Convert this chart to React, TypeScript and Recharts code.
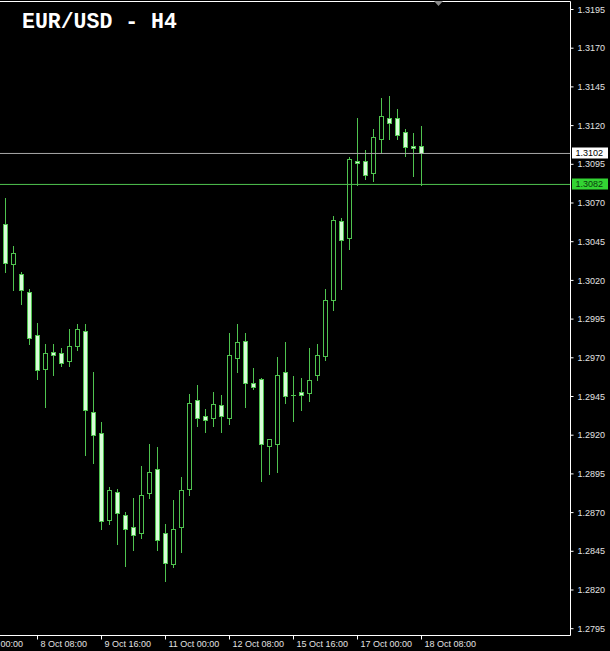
import React from "react";
import { ComposedChart, Bar, XAxis, YAxis, ReferenceLine } from "recharts";

// ---- data (EUR/USD H4) ----
const barIndex = [
  0, 1, 2, 3, 4, 5, 6, 7, 8, 9, 10, 11, 12, 13, 14, 15, 16, 17, 18, 19, 20, 21, 22, 23, 24, 25,
  26, 27, 28, 29, 30, 31, 32, 33, 34, 35, 36, 37, 38, 39, 40, 41, 42, 43, 44, 45, 46, 47, 48, 49,
  50, 51, 52,
];
const opens = [
  1.30564, 1.30301, 1.30235, 1.30119, 1.29841, 1.29623, 1.29737, 1.29731, 1.29675, 1.29772,
  1.29867, 1.29348, 1.29212, 1.28648, 1.28831, 1.28683, 1.28605, 1.28566, 1.28822, 1.2898,
  1.28566, 1.28363, 1.28602, 1.2885, 1.29421, 1.29324, 1.29307, 1.29389, 1.29309, 1.29694,
  1.29808, 1.29531, 1.29557, 1.29126, 1.29139, 1.29602, 1.29458, 1.29473, 1.29468, 1.29584,
  1.29707, 1.30069, 1.30582, 1.30471, 1.30971, 1.30969, 1.30889, 1.31109, 1.31247, 1.31243,
  1.31157, 1.31068, 1.31066,
];
const highs = [
  1.30726, 1.30422, 1.30252, 1.30138, 1.29923, 1.29789, 1.29789, 1.29757, 1.2988, 1.29918,
  1.29918, 1.29608, 1.29281, 1.28863, 1.2885, 1.28699, 1.28794, 1.29001, 1.29143, 1.29122,
  1.28624, 1.28781, 1.28928, 1.2946, 1.29518, 1.29363, 1.29473, 1.29458, 1.2986, 1.29918,
  1.2986, 1.29628, 1.29569, 1.29169, 1.29699, 1.29796, 1.29582, 1.29569, 1.29757, 1.29789,
  1.30144, 1.30616, 1.30601, 1.30991, 1.31246, 1.31042, 1.31178, 1.31372, 1.31391, 1.31301,
  1.31178, 1.3115, 1.31197,
];
const lows = [
  1.3025, 1.30133, 1.30043, 1.29785, 1.29563, 1.29378, 1.29584, 1.29642, 1.29642, 1.29746,
  1.29068, 1.29014, 1.28588, 1.28622, 1.28497, 1.2835, 1.28454, 1.28531, 1.28788, 1.28458,
  1.28254, 1.28344, 1.28441, 1.2881, 1.29255, 1.29216, 1.29255, 1.29216, 1.29272, 1.29604,
  1.29378, 1.29494, 1.289, 1.28949, 1.28956, 1.29403, 1.29287, 1.29358, 1.29416, 1.29552,
  1.29681, 1.30004, 1.30143, 1.304, 1.30816, 1.3085, 1.30838, 1.31021, 1.31113, 1.31107,
  1.30999, 1.30868, 1.30816,
];
const closes = [
  1.3031, 1.30377, 1.30133, 1.29823, 1.29617, 1.29731, 1.29714, 1.29662, 1.2977, 1.2988,
  1.2936, 1.29197, 1.28641, 1.28844, 1.28693, 1.2859, 1.28551, 1.28812, 1.28962, 1.28521,
  1.2837, 1.28592, 1.28844, 1.29406, 1.29309, 1.29294, 1.294, 1.29319, 1.29712, 1.29796,
  1.29533, 1.29507, 1.29139, 1.29169, 1.29587, 1.29449, 1.29458, 1.29455, 1.29555, 1.29716,
  1.30067, 1.30588, 1.30459, 1.30982, 1.30955, 1.30876, 1.3112, 1.3126, 1.31215, 1.31135,
  1.3106, 1.31055, 1.3102,
];

const timeTickBars = [-4, 4, 12, 20, 28, 36, 44, 52];
const timeTickLabels = [
  "7 Oct 00:00",
  "8 Oct 08:00",
  "9 Oct 16:00",
  "11 Oct 00:00",
  "12 Oct 08:00",
  "15 Oct 16:00",
  "17 Oct 00:00",
  "18 Oct 08:00",
];
const priceTicks = [
  1.3195, 1.317, 1.3145, 1.312, 1.3095, 1.307, 1.3045, 1.302, 1.2995, 1.297, 1.2945, 1.292,
  1.2895, 1.287, 1.2845, 1.282, 1.2795,
];
const bidPrice = 1.3102;
const levelPrice = 1.3082;
const chartTitle = "EUR/USD - H4";

// ---- view ----
const X_MIN = -0.6875;
const X_MAX = 70.625;
const Y_MIN = 1.2790607;
const Y_MAX = 1.3200168;

const STROKE = "#4fc34f";
const BEAR_FILL = "#d8fcd8";
const TEXT = "#e2e2e2";
const FONT = "'Liberation Sans', Arial, sans-serif";

const data = barIndex.map((i, k) => ({
  i,
  open: opens[k],
  high: highs[k],
  low: lows[k],
  close: closes[k],
}));

const renderCandle = (props: any) => {
  const { x, y, width, height, payload } = props;
  if (x == null || y == null || !payload || isNaN(x) || isNaN(y)) return <g />;
  const cx = Math.floor(x + width / 2) + 0.5;
  const { open, close, high, low } = payload;
  const range = high - low;
  const ppu = range > 0 ? height / range : 0;
  const yOf = (v: number) => y + (high - v) * ppu;
  const top = Math.max(open, close);
  const bot = Math.min(open, close);
  const yTop = Math.floor(yOf(top)) + 0.5;
  const yBot = Math.floor(yOf(bot)) + 0.5;
  const bear = close < open;
  const bodyH = yBot - yTop;
  return (
    <g>
      <line
        x1={cx}
        x2={cx}
        y1={Math.floor(y)}
        y2={Math.ceil(y + height)}
        stroke={STROKE}
        strokeWidth={1}
      />
      {bodyH < 1 ? (
        <line x1={cx - 2.5} x2={cx + 2.5} y1={yTop} y2={yTop} stroke={STROKE} strokeWidth={1} />
      ) : (
        <rect
          x={cx - 2}
          y={yTop}
          width={4}
          height={bodyH}
          fill={bear ? BEAR_FILL : "#000"}
          stroke={STROKE}
          strokeWidth={1}
        />
      )}
    </g>
  );
};

const TimeTick = (props: any) => {
  const { x, y, payload } = props;
  const idx = timeTickBars.indexOf(payload.value);
  if (idx < 0) return <g />;
  return (
    <text x={x + 3} y={y + 5} fill={TEXT} fontSize={9} fontFamily={FONT} textAnchor="start">
      {timeTickLabels[idx]}
    </text>
  );
};

const makeTag = (bg: string, fg: string, txt: string) => (props: any) => {
  const vb = props.viewBox || {};
  const xr = (vb.x || 0) + (vb.width || 0);
  const yy = vb.y || 0;
  return (
    <g>
      <rect x={xr + 1.5} y={Math.floor(yy) - 5.5} width={36} height={11} fill={bg} />
      <text
        x={xr + 5}
        y={Math.floor(yy)}
        dy="0.36em"
        fill={fg}
        fontSize={9}
        fontFamily={FONT}
      >
        {txt}
      </text>
    </g>
  );
};

export default function App() {
  return (
    <div
      style={{
        position: "fixed",
        left: 0,
        top: 0,
        width: 610,
        height: 651,
        background: "#000",
        overflow: "hidden",
      }}
    >
      <ComposedChart
        width={610}
        height={651}
        data={data}
        margin={{ top: 1.5, right: 0, bottom: 0, left: 0 }}
      >
        <XAxis
          dataKey="i"
          type="number"
          domain={[X_MIN, X_MAX]}
          allowDataOverflow
          ticks={timeTickBars}
          interval={0}
          height={15.5}
          tickSize={4}
          axisLine={{ stroke: "#ffffff" }}
          tickLine={{ stroke: "#ffffff" }}
          tick={<TimeTick />}
        />
        <YAxis
          orientation="right"
          type="number"
          domain={[Y_MIN, Y_MAX]}
          allowDataOverflow
          ticks={priceTicks}
          interval={0}
          width={39.5}
          tickSize={3}
          tickMargin={4}
          axisLine={{ stroke: "#ffffff" }}
          tickLine={{ stroke: "#ffffff" }}
          tick={{ fill: TEXT, fontSize: 9, fontFamily: FONT }}
          tickFormatter={(v: number) => v.toFixed(4)}
        />
        <ReferenceLine y={Y_MAX} stroke="#ffffff" strokeWidth={1} ifOverflow="visible" />
        <ReferenceLine
          y={bidPrice}
          stroke="#a8a8a8"
          strokeWidth={1}
          label={makeTag("#ffffff", "#000000", bidPrice.toFixed(4))}
        />
        <ReferenceLine
          y={levelPrice}
          stroke={STROKE}
          strokeWidth={1}
          label={makeTag("#33d433", "#0c3a0c", levelPrice.toFixed(4))}
        />
        <Bar
          dataKey={(d: any) => [d.low, d.high]}
          shape={renderCandle}
          isAnimationActive={false}
        />
      </ComposedChart>
      <div
        style={{
          position: "absolute",
          left: 22,
          top: 12,
          color: "#ffffff",
          fontFamily: "'Liberation Mono', 'Courier New', monospace",
          fontWeight: "bold",
          fontSize: 21.5,
          lineHeight: "21px",
          whiteSpace: "pre",
        }}
      >
        {chartTitle}
      </div>
      <svg
        width={12}
        height={8}
        style={{ position: "absolute", left: 433, top: 1 }}
      >
        <polygon points="1,0 10,0 5.5,5" fill="#8a8a8a" />
      </svg>
    </div>
  );
}
